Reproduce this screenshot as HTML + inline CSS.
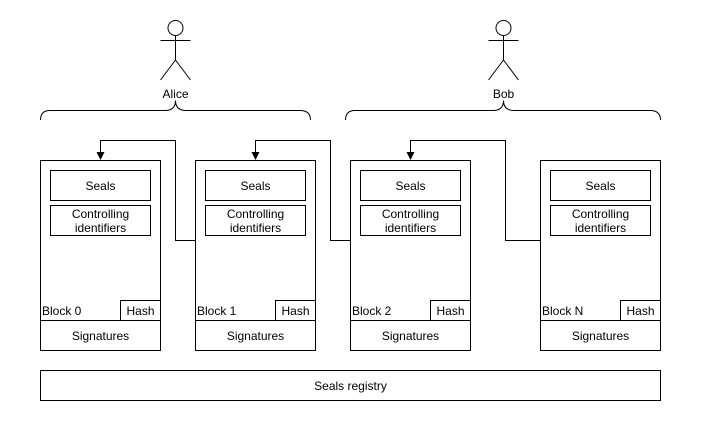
<!DOCTYPE html>
<html><head><style>body{margin:0;background:#fff}</style></head><body>
<svg width="701" height="441" xmlns="http://www.w3.org/2000/svg" font-family="Liberation Sans, sans-serif" font-size="12">
<rect width="701" height="441" fill="#fff"/>
<g stroke="#000" fill="none" stroke-width="1">
<!-- actors -->
<circle cx="175.5" cy="28" r="7.5" fill="#fff"/>
<path d="M175.5 35.5V60M160.5 40.5H190.5M175.5 60L160.5 80M175.5 60L190.5 80"/>
<circle cx="503.5" cy="28" r="7.5" fill="#fff"/>
<path d="M503.5 35.5V60M488.5 40.5H518.5M503.5 60L488.5 80M503.5 60L518.5 80"/>
<!-- braces -->
<path d="M40.5 120 Q40.5 110.5 50 110.5 H165 Q175.5 110.5 175.5 100.5 Q175.5 110.5 186 110.5 H300 Q310.5 110.5 310.5 120"/>
<path d="M345.5 120 Q345.5 110.5 355 110.5 H493 Q503.5 110.5 503.5 100.5 Q503.5 110.5 514 110.5 H650 Q660.5 110.5 660.5 120"/>
<!-- connectors -->
<path d="M195.5 240.5H175.5V140.5H100.5V153"/>
<path d="M350.5 240.5H330.5V140.5H255.5V153"/>
<path d="M540.5 240.5H505.5V140.5H410.5V153"/>
</g>
<g fill="#000">
<path d="M96.5 152L100.5 160L104.5 152Z"/>
<path d="M251.5 152L255.5 160L259.5 152Z"/>
<path d="M406.5 152L410.5 160L414.5 152Z"/>
</g>
<g text-anchor="middle" fill="#000">
<text x="175.5" y="98">Alice</text>
<text x="503.5" y="98">Bob</text>
</g>
<!-- blocks -->
<g id="b0" stroke="#000" fill="none">
<rect x="40.5" y="160.5" width="120" height="190"/>
<rect x="50.5" y="170.5" width="100" height="30"/>
<rect x="50.5" y="205.5" width="100" height="30"/>
<rect x="120.5" y="300.5" width="40" height="20"/>
<path d="M40.5 320.5H160.5"/>
</g>
<g text-anchor="middle" fill="#000">
<text x="100.5" y="190">Seals</text><text x="100.5" y="218">Controlling</text><text x="100.5" y="232">identifiers</text>
<text x="140.5" y="315">Hash</text><text x="100.5" y="340">Signatures</text>
</g>
<text x="42" y="315">Block 0</text>
<use href="#b0" x="155"/><use href="#b0" x="310"/><use href="#b0" x="500"/>
<g text-anchor="middle" fill="#000">
<text x="255.5" y="190">Seals</text><text x="255.5" y="218">Controlling</text><text x="255.5" y="232">identifiers</text>
<text x="295.5" y="315">Hash</text><text x="255.5" y="340">Signatures</text>
<text x="410.5" y="190">Seals</text><text x="410.5" y="218">Controlling</text><text x="410.5" y="232">identifiers</text>
<text x="450.5" y="315">Hash</text><text x="410.5" y="340">Signatures</text>
<text x="600.5" y="190">Seals</text><text x="600.5" y="218">Controlling</text><text x="600.5" y="232">identifiers</text>
<text x="640.5" y="315">Hash</text><text x="600.5" y="340">Signatures</text>
<text x="350.5" y="390">Seals registry</text>
</g>
<text x="197" y="315">Block 1</text>
<text x="352" y="315">Block 2</text>
<text x="542" y="315">Block N</text>
<rect x="40.5" y="370.5" width="620" height="30" stroke="#000" fill="none"/>
</svg>
</body></html>
